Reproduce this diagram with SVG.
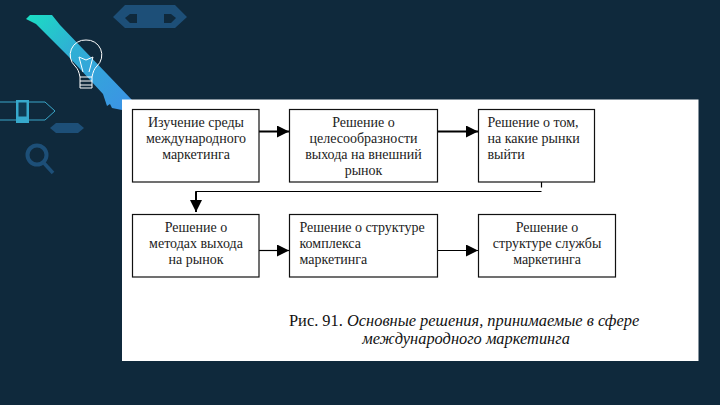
<svg xmlns="http://www.w3.org/2000/svg" width="720" height="405" viewBox="0 0 720 405">
<style>
.box{fill:#fff;stroke:#111;stroke-width:1.2}
text{font-family:"Liberation Serif","Times New Roman",serif;font-size:14px;fill:#222}
.m{text-anchor:middle}
.cap{font-size:16.4px;fill:#111}
.conn{fill:none;stroke:#000}
.deco{fill:none;stroke:#fff;stroke-width:1}
</style>
<defs>
<linearGradient id="g" gradientUnits="userSpaceOnUse" x1="30" y1="15" x2="125" y2="105"><stop offset="0" stop-color="#1bdcc4"/><stop offset="0.4" stop-color="#2fb0d4"/><stop offset="1" stop-color="#3b94e4"/></linearGradient>
<marker id="a" markerUnits="userSpaceOnUse" markerWidth="13" markerHeight="13" refX="12" refY="6" orient="auto"><path d="M0 0L12 6L0 12Z" fill="#000"/></marker>
</defs>
<rect width="720" height="405" fill="#0f293c"/>
<g id="decor">
<path d="M26 19L30 15L52 15L60 25L132 100L122 110L112 108L110 104L107 106L103 94L68 56L36 24Z" fill="url(#g)"/>
<path d="M113 17L125 5H175L187 17L175 28H125ZM125 18L130 23H137V14H130ZM164 14V23H171L176 18L171 14Z" fill="#1d4f78" fill-rule="evenodd"/>
<path d="M86 40a15 15 0 0 1 11 26c-3 3-4 6-5 11H80c-1-5-2-8-5-11a15 15 0 0 1 11-26Z" class="deco"/>
<path d="M80 77V88H92V77M80 81H92M80 85H92M79 57L83 72M93 57L89 72M79 57L86 60L93 57" class="deco"/>
<path d="M0 102H45L55 111L45 120H0" fill="none" stroke="#3aa6c8" stroke-width="1"/>
<rect x="16" y="100" width="13" height="23" fill="#37a9cc"/>
<rect x="18.500" y="102.500" width="8" height="14" fill="#0f3a52"/>
<path d="M56 123H78L84 128L78 133H56L50 128Z" fill="#1d4f78"/>
<circle cx="37" cy="155" r="9.500" fill="none" stroke="#1d4f78" stroke-width="4"/>
<path d="M43 162L53 173" stroke="#1d4f78" stroke-width="3.500" fill="none"/>
</g>
<rect id="panel" x="122" y="99.500" width="576.500" height="261.500" fill="#fff"/>
<g id="connectors">
<path class="conn" stroke-width="2" d="M259 131.500H289" marker-end="url(#a)"/>
<path class="conn" stroke-width="2" d="M437.500 131.500H478" marker-end="url(#a)"/>
<path class="conn" stroke-width="1.200" d="M541.500 178V187.500"/>
<path class="conn" stroke-width="1.200" d="M541.500 191.500H196V200"/>
<path class="conn" stroke-width="2" d="M196 191.500V212" marker-end="url(#a)"/>
<path class="conn" stroke-width="1.200" d="M259 250.500H289" marker-end="url(#a)"/>
<path class="conn" stroke-width="1.200" d="M437.500 250.500H478" marker-end="url(#a)"/>
</g>
<g id="n1"><rect class="box" x="132.500" y="109.500" width="126.500" height="72.500"/>
<text class="m" x="196" y="127">Изучение среды</text><text class="m" x="196" y="143">международного</text><text class="m" x="196" y="159">маркетинга</text></g>
<g id="n2"><rect class="box" x="289.500" y="109.500" width="148" height="72.500"/>
<text class="m" x="363.500" y="127">Решение о</text><text class="m" x="363.500" y="143">целесообразности</text><text class="m" x="363.500" y="159">выхода на внешний</text><text class="m" x="363.500" y="175">рынок</text></g>
<g id="n3"><rect class="box" x="478.500" y="109.500" width="116" height="72.500"/>
<text x="487.500" y="127">Решение о том,</text><text x="487.500" y="143">на какие рынки</text><text x="487.500" y="159">выйти</text></g>
<g id="n4"><rect class="box" x="132.500" y="214.500" width="126.500" height="62.500"/>
<text class="m" x="196" y="232">Решение о</text><text class="m" x="196" y="248">методах выхода</text><text class="m" x="196" y="264">на рынок</text></g>
<g id="n5"><rect class="box" x="289.500" y="214.500" width="148" height="62.500"/>
<text x="299.500" y="232">Решение о структуре</text><text x="299.500" y="248">комплекса</text><text x="299.500" y="264">маркетинга</text></g>
<g id="n6"><rect class="box" x="478.500" y="214.500" width="137" height="62.500"/>
<text class="m" x="547" y="232">Решение о</text><text class="m" x="547" y="248">структуре службы</text><text class="m" x="547" y="264">маркетинга</text></g>
<g id="caption">
<text class="cap" x="289" y="326">Рис. 91. <tspan font-style="italic">Основные решения, принимаемые в сфере</tspan></text>
<text class="cap m" x="466" y="344" font-style="italic">международного маркетинга</text>
</g>
</svg>
